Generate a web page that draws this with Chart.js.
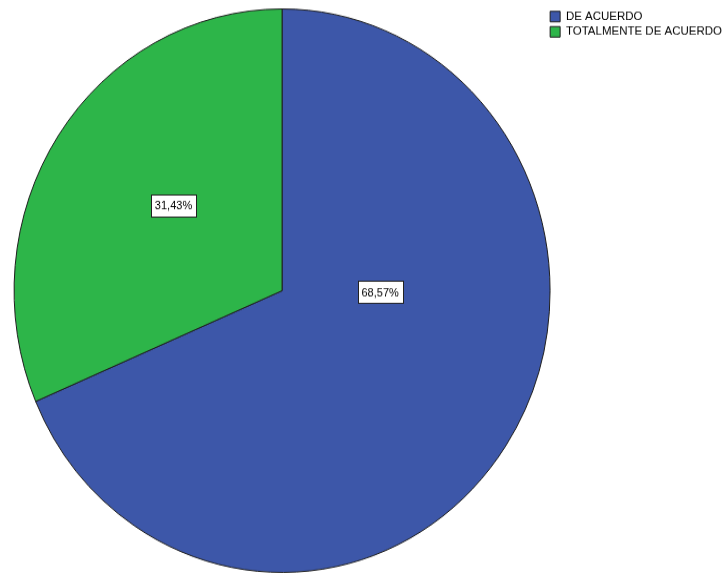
<!DOCTYPE html>
<html>
<head>
<meta charset="utf-8">
<script src="https://cdn.jsdelivr.net/npm/chart.js@4.4.1/dist/chart.umd.min.js"></script>
<style>
  html, body { margin: 0; padding: 0; background: #fff; overflow: hidden; }
  /* drawn at 546px high and shown at 574px, so the pie comes out a little taller than wide */
  #pie { display: block; width: 724px; height: 574px; }
</style>
</head>
<body>
<canvas id="pie" width="724" height="546" style="width:724px;height:574px"></canvas>
<script>
const categories = ["DE ACUERDO", "TOTALMENTE DE ACUERDO"];
const percents = [68.57, 31.43];
const sliceColors = ["#3d57a9", "#2db549"];

// where each value box sits, as a fraction of the radius from the centre
const labelSpots = [[0.366, 0.005], [-0.405, -0.303]];

const valueBoxes = {
    id: "valueBoxes",
    afterDatasetsDraw(chart) {
        const ctx = chart.ctx;
        const meta = chart.getDatasetMeta(0);
        ctx.save();
        ctx.font = "11px 'Liberation Sans', Arial, sans-serif";
        ctx.textAlign = "center";
        ctx.textBaseline = "middle";
        meta.data.forEach((arc, i) => {
            const r = arc.outerRadius;
            const x = arc.x + labelSpots[i][0] * r;
            const y = arc.y + labelSpots[i][1] * r;
            const text = percents[i].toFixed(2).replace(".", ",") + "%";
            const w = Math.round(ctx.measureText(text).width + 8);
            const h = 21;
            const left = Math.round(x - w / 2) + 0.5;
            const top = Math.round(y - h / 2) + 0.5;
            ctx.fillStyle = "#fff";
            ctx.fillRect(left, top, w, h);
            ctx.strokeStyle = "#222";
            ctx.lineWidth = 1;
            ctx.strokeRect(left, top, w, h);
            ctx.fillStyle = "#000";
            ctx.fillText(text, x, y + 1);
        });
        ctx.restore();
    }
};

new Chart(document.getElementById("pie"), {
    type: "pie",
    data: {
        labels: categories,
        datasets: [{
            data: percents,
            backgroundColor: sliceColors,
            borderColor: "#1e1e1e",
            borderWidth: 1,
            radius: 268
        }]
    },
    options: {
        responsive: false,
        devicePixelRatio: 1,
        animation: false,
        // negative right padding pushes the legend up against the edge
        layout: { padding: { left: 17, top: 7, right: -8, bottom: 0 } },
        plugins: {
            tooltip: { enabled: false },
            legend: {
                position: "right",
                align: "start",
                labels: {
                    boxWidth: 10,
                    boxHeight: 10,
                    padding: 3,
                    color: "#000",
                    font: { family: "'Liberation Sans', Arial, sans-serif", size: 11.5 }
                }
            }
        }
    },
    plugins: [valueBoxes]
});
</script>
</body>
</html>
